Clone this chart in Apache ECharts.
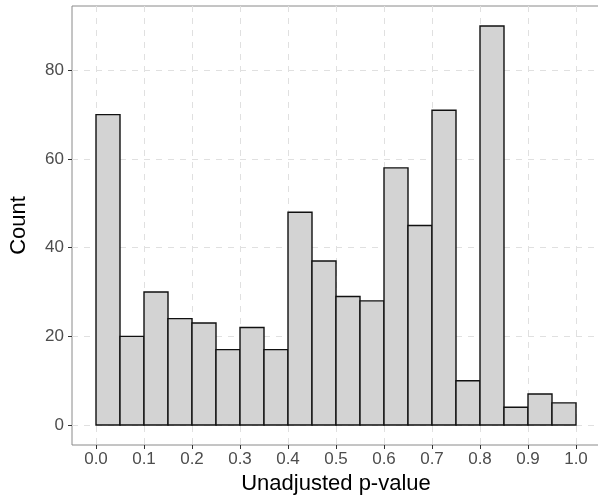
<!DOCTYPE html>
<html>
<head>
<meta charset="utf-8">
<script src="https://cdn.jsdelivr.net/npm/echarts@6/dist/echarts.min.js"></script>
<style>html,body{margin:0;padding:0;background:#fff}#chart{width:598px;height:495px}</style>
</head>
<body>
<div id="chart"></div>
<script>
// Histogram bins (left edges) and counts
const binStarts = [0.00,0.05,0.10,0.15,0.20,0.25,0.30,0.35,0.40,0.45,0.50,0.55,0.60,0.65,0.70,0.75,0.80,0.85,0.90,0.95];
const binWidth = 0.05;
const counts = [70,20,30,24,23,17,22,17,48,37,29,28,58,45,71,10,90,4,7,5];
const xTicks = [0,0.1,0.2,0.3,0.4,0.5,0.6,0.7,0.8,0.9,1.0];
const yTicks = [0,20,40,60,80];
const xTitle = 'Unadjusted p-value';
const yTitle = 'Count';

const data = binStarts.map((s, i) => [s, s + binWidth, counts[i]]);
const font = '"Liberation Sans", Arial, sans-serif';
const chart = echarts.init(document.getElementById('chart'), null, {renderer: 'canvas'});
chart.setOption({
  animation: false,
  backgroundColor: '#fff',
  grid: {left: 72, top: 6, right: -2, bottom: 50, show: true, borderColor: '#8a8a8a', borderWidth: 1,
    backgroundColor: 'transparent', containLabel: false, outerBoundsMode: 'none'},
  xAxis: {
    type: 'value', min: -0.05, max: 1.05,
    name: xTitle, nameLocation: 'middle', nameGap: 24,
    nameTextStyle: {fontFamily: font, fontSize: 22, color: '#000'},
    axisLine: {show: false, onZero: false},
    axisTick: {show: true, length: 4, lineStyle: {color: '#333'}, customValues: xTicks},
    axisLabel: {customValues: xTicks, fontFamily: font, fontSize: 17, color: '#4d4d4d', margin: 6,
      formatter: v => v.toFixed(1)},
    splitLine: {show: true, lineStyle: {color: '#e0e0e0', type: [6, 6], width: 1}}
  },
  yAxis: {
    type: 'value', min: -4.5, max: 94.5,
    name: yTitle, nameLocation: 'middle', nameGap: 42, nameRotate: 90,
    nameTextStyle: {fontFamily: font, fontSize: 22, color: '#000'},
    axisLine: {show: false, onZero: false},
    axisTick: {show: true, length: 4, lineStyle: {color: '#333'}, customValues: yTicks},
    axisLabel: {customValues: yTicks, fontFamily: font, fontSize: 17, color: '#4d4d4d', margin: 8},
    splitLine: {show: true, lineStyle: {color: '#e0e0e0', type: [6, 6], width: 1}}
  },
  series: [{
    type: 'custom',
    data: data,
    encode: {x: [0, 1], y: 2},
    renderItem: function (params, api) {
      const p0 = api.coord([api.value(0), api.value(2)]);
      const p1 = api.coord([api.value(1), 0]);
      return {
        type: 'rect',
        shape: {x: p0[0], y: p0[1], width: p1[0] - p0[0], height: p1[1] - p0[1]},
        style: {fill: '#d3d3d3', stroke: '#111', lineWidth: 1.4}
      };
    }
  }]
});
</script>
</body>
</html>
